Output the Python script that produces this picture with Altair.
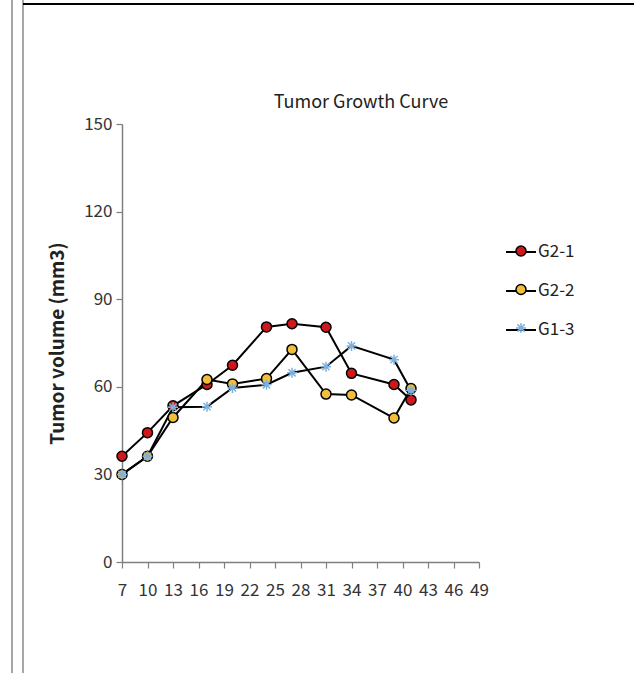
import altair as alt
import pandas as pd

# ---- data ----
days = [7, 10, 13, 17, 20, 24, 27, 31, 34, 39, 41]
series_names = ["G2-1", "G2-2", "G1-3"]
g2_1 = [36.2, 44.3, 53.5, 60.8, 67.4, 80.5, 81.6, 80.4, 64.6, 60.8, 55.5]
g2_2 = [30.0, 36.2, 49.5, 62.5, 61.0, 62.8, 72.8, 57.5, 57.2, 49.3, 59.4]
g1_3 = [30.0, 36.2, 53.0, 53.2, 59.6, 60.7, 64.8, 66.9, 74.0, 69.3, 58.7]
x_ticks = list(range(7, 50, 3))
y_ticks = [0, 30, 60, 90, 120, 150]

rows = []
for name, vals in zip(series_names, [g2_1, g2_2, g1_3]):
    for d, v in zip(days, vals):
        rows.append({"day": d, "volume": v, "series": name, "grp": name})
df = pd.DataFrame(rows)

FONT = "Noto Sans CJK KR"
AX = "#7f7f7f"
marker_fill = ["#D0181C", "#F2BF3A", "transparent"]
marker_stroke = ["#000000", "#000000", "#7FB0DC"]
asterisk = "M-1,0L1,0M0,-1L0,1M-0.72,-0.72L0.72,0.72M-0.72,0.72L0.72,-0.72"

W, H = 357, 438
PL, PT = 122, 124

x_axis = alt.Axis(values=x_ticks, title=None, grid=False, labelFontSize=17,
                  labelPadding=14, tickSize=6, labelFlush=False, labelOverlap=False)
y_axis = alt.Axis(values=y_ticks, title="Tumor volume (mm3)", grid=False,
                  labelFontSize=17, labelPadding=4, tickSize=6, labelOverlap=False,
                  titleFontSize=19, titleFontWeight="bold", titlePadding=16)
x_scale = alt.Scale(domain=[7, 49], nice=False, zero=False)
y_scale = alt.Scale(domain=[0, 150], nice=False)

lines = alt.Chart(df).mark_line(strokeWidth=2).encode(
    x=alt.X("day:Q", scale=x_scale, axis=x_axis),
    y=alt.Y("volume:Q", scale=y_scale, axis=y_axis),
    color=alt.Color("grp:N", scale=alt.Scale(domain=series_names, range=["#000000"] * 3),
                    legend=alt.Legend(title=None, orient="none", legendX=383, legendY=112,
                                      symbolType="stroke", symbolSize=900, symbolStrokeWidth=2,
                                      labelFontSize=17, labelOffset=1, rowPadding=15,
                                      padding=0, labelColor="#222222", labelFont=FONT)),
)

pt_legend = alt.Legend(title=None, orient="none", legendX=393, legendY=121,
                       symbolSize=100, symbolStrokeWidth=1.5, labelFontSize=1,
                       labelExpr="''", labelOpacity=0, rowPadding=22.5, padding=0,
                       labelFont=FONT)

points = alt.Chart(df).mark_point(size=100, strokeWidth=1.5, opacity=1, filled=False).encode(
    x=alt.X("day:Q", scale=x_scale, axis=x_axis),
    y=alt.Y("volume:Q", scale=y_scale, axis=y_axis),
    shape=alt.Shape("series:N", scale=alt.Scale(domain=series_names,
                                                range=["circle", "circle", asterisk]),
                    legend=pt_legend),
    fill=alt.Fill("series:N", scale=alt.Scale(domain=series_names, range=marker_fill),
                  legend=pt_legend),
    stroke=alt.Stroke("series:N", scale=alt.Scale(domain=series_names, range=marker_stroke),
                      legend=pt_legend),
)

one = pd.DataFrame({"k": [0]})
frame_l1 = alt.Chart(one).mark_rule(color="#8a8a8a", strokeWidth=1.5).encode(
    x=alt.value(12 - PL), y=alt.value(-PT), y2=alt.value(673 - PT))
frame_l2 = alt.Chart(one).mark_rule(color="#8a8a8a", strokeWidth=1.5).encode(
    x=alt.value(23 - PL), y=alt.value(-PT), y2=alt.value(673 - PT))
frame_top = alt.Chart(one).mark_rule(color="#000000", strokeWidth=2).encode(
    x=alt.value(23 - PL), x2=alt.value(634 - PL), y=alt.value(4 - PT))

title = alt.Chart(one).mark_text(text="Tumor Growth Curve", fontSize=18, font=FONT,
                                 color="#222222", baseline="middle", align="center").encode(
    x=alt.value(361 - PL), y=alt.value(103 - PT))

chart = alt.layer(frame_l1, frame_l2, frame_top, title, lines, points).resolve_scale(
    color="independent", fill="independent", stroke="independent", shape="independent"
).properties(
    width=W, height=H,
    autosize=alt.AutoSizeParams(type="none"),
    padding={"left": PL, "top": PT, "right": 634 - PL - W, "bottom": 673 - PT - H},
    background="white",
).configure_view(stroke=None).configure_axis(
    domainColor=AX, tickColor=AX, domainWidth=1.5, tickWidth=1.2, labelOverlap=False,
    labelColor="#333333", titleColor="#222222", labelFont=FONT, titleFont=FONT,
)

chart.save("out.html", embed_options={"renderer": "svg", "actions": False})
